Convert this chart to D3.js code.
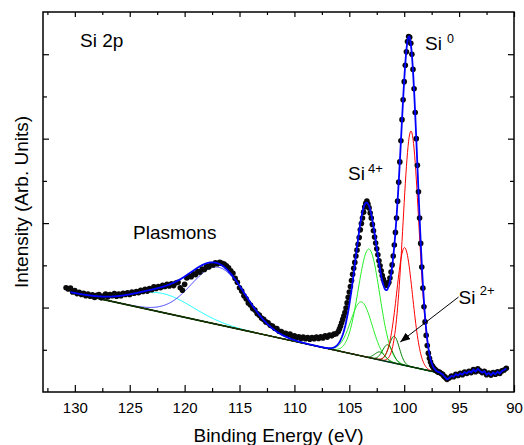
<!DOCTYPE html>
<html>
<head>
<meta charset="utf-8">
<script src="https://cdn.jsdelivr.net/npm/d3@7"></script>
<style>
  html, body { margin: 0; padding: 0; background: #fff; }
  svg { display: block; }
</style>
</head>
<body>
<svg id="svg" width="524" height="445"></svg>
<script>
// measured Si 2p scan, three segments: start energy (eV), step (eV), intensity (arb. units)
const segStart = [130.8, 106.0, 95.9];
const segStep = [0.2, 0.1, 0.2];
const countsHigh = [
  2.47, 2.44, 2.46, 2.37, 2.40, 2.33, 2.36, 2.31, 2.34, 2.28,
  2.32, 2.27, 2.30, 2.24, 2.29, 2.31, 2.23, 2.27, 2.32, 2.25,
  2.31, 2.28, 2.33, 2.27, 2.32, 2.28, 2.34, 2.31, 2.35, 2.31,
  2.37, 2.34, 2.38, 2.35, 2.41, 2.38, 2.43, 2.39, 2.45, 2.42,
  2.49, 2.45, 2.50, 2.47, 2.53, 2.50, 2.55, 2.51, 2.56, 2.52,
  2.58, 2.60, 2.47, 2.41, 2.55, 2.70, 2.74, 2.73, 2.80, 2.78,
  2.85, 2.84, 2.91, 2.90, 2.97, 2.96, 3.02, 3.01, 3.06, 3.04,
  3.07, 3.05, 3.03, 2.99, 2.94, 2.87, 2.81, 2.69, 2.60, 2.47,
  2.39, 2.28, 2.21, 2.11, 2.06, 1.98, 1.94, 1.86, 1.82, 1.75,
  1.72, 1.66, 1.64, 1.58, 1.56, 1.51, 1.50, 1.44, 1.43, 1.39,
  1.39, 1.35, 1.37, 1.32, 1.33, 1.29, 1.31, 1.27, 1.30, 1.26,
  1.29, 1.25, 1.29, 1.26, 1.30, 1.27, 1.31, 1.28, 1.33, 1.30,
  1.35, 1.33, 1.37, 1.38
];
const countsPeak = [
  1.43, 1.49, 1.56, 1.64, 1.72, 1.80, 1.88, 1.99, 2.11, 2.24,
  2.37, 2.50, 2.64, 2.79, 2.93, 3.07, 3.22, 3.36, 3.50, 3.66,
  3.84, 3.99, 4.12, 4.26, 4.38, 4.47, 4.52, 4.45, 4.36, 4.24,
  4.12, 3.97, 3.82, 3.67, 3.53, 3.39, 3.25, 3.11, 2.99, 2.87,
  2.76, 2.67, 2.60, 2.55, 2.53, 2.55, 2.60, 2.70, 2.84, 3.01,
  3.22, 3.48, 3.78, 4.12, 4.52, 4.97, 5.45, 5.95, 6.45, 6.92,
  7.35, 7.74, 8.06, 8.30, 8.42, 8.40, 8.26, 8.00, 7.64, 7.18,
  6.62, 6.00, 5.37, 4.74, 4.12, 3.52, 2.96, 2.46, 2.02, 1.66,
  1.34, 1.10, 0.92, 0.80, 0.71, 0.64, 0.60, 0.56, 0.54, 0.51,
  0.49, 0.47, 0.47, 0.45, 0.43, 0.42, 0.38, 0.36, 0.33, 0.30
];
const countsLow = [
  0.33, 0.38, 0.36, 0.42, 0.39, 0.44, 0.41, 0.47, 0.44, 0.49,
  0.46, 0.53, 0.48, 0.55, 0.50, 0.46, 0.49, 0.41, 0.45, 0.40,
  0.46, 0.42, 0.48, 0.44, 0.50, 0.52, 0.56
];

// linear background under the fit
const bgEnergy = [130.4, 97.2];
const bgLevel = [2.36, 0.474];

// fitted components: plasmons, Si4+ doublet, Si2+ region, Si0 doublet
const peakCenter = [122.0, 116.9, 103.21, 103.89, 100.91, 101.5, 102.2, 99.38, 99.96];
const peakHeight = [0.45, 1.36, 2.57, 1.28, 0.635, 0.40, 0.19, 5.58, 2.79];
const peakFwhm = [6.6, 5.8, 2.3, 2.3, 1.1, 1.1, 1.1, 1.7, 1.7];
const peakColor = ["#00ffff", "#3a3aff", "#22ee22", "#22ee22", "#008000", "#008000", "#008000", "#ff0000", "#ff0000"];

const xMajor = [130, 125, 120, 115, 110, 105, 100, 95, 90];
const xMinor = [132.5, 127.5, 122.5, 117.5, 112.5, 107.5, 102.5, 97.5, 92.5];

const FONT = "'Liberation Sans', Arial, Helvetica, sans-serif";
const svg = d3.select("#svg");

const x = d3.scaleLinear().domain([132.9, 90]).range([43, 514]);
const y = d3.scaleLinear().domain([0, 9]).range([392, 12]);

// scan points
const counts = [countsHigh, countsPeak, countsLow];
const scan = [];
counts.forEach((arr, s) => {
  arr.forEach((v, i) => {
    scan.push({ e: +(segStart[s] - i * segStep[s]).toFixed(2), v: v });
  });
});

// fit curves
const bgAt = e => bgLevel[0] + (e - bgEnergy[0]) * (bgLevel[1] - bgLevel[0]) / (bgEnergy[1] - bgEnergy[0]);
const peakAt = (k, e) => peakHeight[k] * Math.exp(-4 * Math.LN2 * Math.pow(e - peakCenter[k], 2) / Math.pow(peakFwhm[k], 2));
const grid = d3.range(0, Math.round((bgEnergy[0] - bgEnergy[1]) / 0.05) + 1).map(i => +(bgEnergy[0] - i * 0.05).toFixed(2));

const line = d3.line().x(d => x(d[0])).y(d => y(d[1]));

const comps = svg.append("g");
peakCenter.forEach((c, k) => {
  comps.append("path")
    .attr("d", line(grid.map(e => [e, bgAt(e) + peakAt(k, e)])))
    .attr("fill", "none")
    .attr("stroke", peakColor[k])
    .attr("stroke-width", 1);
});

svg.append("path")
  .attr("d", line(bgEnergy.map(e => [e, bgAt(e)])))
  .attr("fill", "none")
  .attr("stroke", "#0a330a")
  .attr("stroke-width", 1.6);

svg.append("g")
  .selectAll("circle")
  .data(scan)
  .join("circle")
  .attr("cx", d => x(d.e))
  .attr("cy", d => y(d.v))
  .attr("r", 2.8)
  .attr("fill", "#0a0a0a");

// envelope over fit range, then the scan line past the background end
const envelope = grid.map(e => [e, bgAt(e) + d3.sum(peakCenter, (c, k) => peakAt(k, e))]);
const tail = scan.filter(d => d.e <= bgEnergy[1]).map(d => [d.e, d.v]);
svg.append("path")
  .attr("d", line(envelope.concat(tail)))
  .attr("fill", "none")
  .attr("stroke", "#0000ff")
  .attr("stroke-width", 1.8);

// axes, ticks pointing inward
function tidy(g) {
  g.select(".domain").remove();
  g.selectAll(".tick line").attr("stroke", "#000").attr("stroke-width", 1.2);
  g.attr("font-family", FONT).attr("font-size", 15);
  g.selectAll("text").attr("fill", "#000");
}
svg.append("g").attr("transform", "translate(0,392)")
  .call(d3.axisBottom(x).tickValues(xMajor).tickSize(-7).tickPadding(10).tickFormat(d3.format("d")))
  .call(tidy);
svg.append("g").attr("transform", "translate(0,392)")
  .call(d3.axisBottom(x).tickValues(xMinor).tickSize(-4).tickFormat(""))
  .call(tidy);
svg.append("g").attr("transform", "translate(0,12)")
  .call(d3.axisTop(x).tickValues(xMajor).tickSize(-5).tickFormat(""))
  .call(tidy);
svg.append("g").attr("transform", "translate(0,12)")
  .call(d3.axisTop(x).tickValues(xMinor).tickSize(-3).tickFormat(""))
  .call(tidy);
svg.append("g").attr("transform", "translate(43,0)")
  .call(d3.axisLeft(y).tickValues([2, 4, 6, 8]).tickSize(-6).tickFormat(""))
  .call(tidy);
svg.append("g").attr("transform", "translate(43,0)")
  .call(d3.axisLeft(y).tickValues([1, 3, 5, 7]).tickSize(-4).tickFormat(""))
  .call(tidy);
svg.append("g").attr("transform", "translate(514,0)")
  .call(d3.axisRight(y).tickValues([2, 4, 6, 8]).tickSize(-6).tickFormat(""))
  .call(tidy);
svg.append("g").attr("transform", "translate(514,0)")
  .call(d3.axisRight(y).tickValues([1, 3, 5, 7]).tickSize(-4).tickFormat(""))
  .call(tidy);

svg.append("rect")
  .attr("x", 43).attr("y", 12).attr("width", 471).attr("height", 380)
  .attr("fill", "none").attr("stroke", "#000").attr("stroke-width", 1.5);

// titles
svg.append("text")
  .attr("x", 278.5).attr("y", 442)
  .attr("text-anchor", "middle")
  .attr("font-family", FONT).attr("font-size", 19)
  .text("Binding Energy (eV)");
svg.append("text")
  .attr("transform", "translate(27.5,202) rotate(-90)")
  .attr("text-anchor", "middle")
  .attr("font-family", FONT).attr("font-size", 19)
  .text("Intensity (Arb. Units)");

// annotations
function label(px, py, main, sup, dx, dy, supSize) {
  const t = svg.append("text")
    .attr("x", px).attr("y", py)
    .attr("font-family", FONT).attr("font-size", 19)
    .text(main);
  if (sup) {
    t.append("tspan").attr("dx", dx).attr("dy", dy).attr("font-size", supSize).text(sup);
  }
}
label(80, 47, "Si 2p");
label(133, 238.5, "Plasmons");
label(348, 180, "Si", "4+", 3, -7.5, 13);
label(425, 50, "Si", "0", 5, -6.7, 12.5);
label(458.5, 303.5, "Si", "2+", 4.4, -9, 13);

svg.append("defs").append("marker")
  .attr("id", "head")
  .attr("viewBox", "0 0 10 8")
  .attr("refX", 10).attr("refY", 4)
  .attr("markerWidth", 10).attr("markerHeight", 8)
  .attr("markerUnits", "userSpaceOnUse")
  .attr("orient", "auto")
  .append("path")
  .attr("d", "M0,0 L10,4 L0,8 Z")
  .attr("fill", "#000");

svg.append("line")
  .attr("x1", x(95.05)).attr("y1", y(2.25))
  .attr("x2", x(100.36)).attr("y2", y(1.185))
  .attr("stroke", "#000").attr("stroke-width", 1)
  .attr("marker-end", "url(#head)");
</script>
</body>
</html>
